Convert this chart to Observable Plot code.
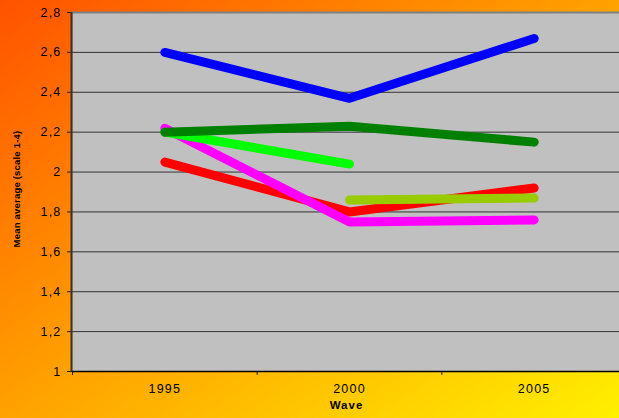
<!DOCTYPE html>
<html>
<head>
<meta charset="utf-8">
<script src="https://cdn.jsdelivr.net/npm/d3@7"></script>
<script src="https://cdn.jsdelivr.net/npm/@observablehq/plot@0.6"></script>
<style>
  html, body { margin: 0; padding: 0; width: 619px; height: 418px; overflow: hidden;
    background: linear-gradient(to bottom right, #ff5200, #ffa200 50%, #fff000); }
  #chart svg text { letter-spacing: 1.2px; }
  #chart svg .xtitle text { letter-spacing: 1px; }
  #chart svg .ytitle text { letter-spacing: 0.2px; }
</style>
</head>
<body>
<div id="chart"></div>
<script>
const years = [1995, 2000, 2005];
const bandEdges = [1992.5, 1997.5, 2002.5, 2007.5];
const yTicks = [1, 1.2, 1.4, 1.6, 1.8, 2, 2.2, 2.4, 2.6, 2.8];
const gridTicks = [1.2, 1.4, 1.6, 1.8, 2, 2.2, 2.4, 2.6];

const blue        = [2.60, 2.37, 2.67];
const darkGreen   = [2.20, 2.23, 2.15];
const brightGreen = [2.20, 2.04, null];
const red         = [2.05, 1.80, 1.92];
const magenta     = [2.22, 1.75, 1.76];
const yellowGreen = [null, 1.86, 1.87];

const seriesList = [
  {name: "red", values: red, color: "#ff0000"},
  {name: "magenta", values: magenta, color: "#ff00ff"},
  {name: "brightGreen", values: brightGreen, color: "#00ff00"},
  {name: "yellowGreen", values: yellowGreen, color: "#99cc00"},
  {name: "darkGreen", values: darkGreen, color: "#008000"},
  {name: "blue", values: blue, color: "#0000ff"}
];

const rows = s => years.map((yr, i) => ({year: yr, value: s.values[i]})).filter(d => d.value != null);
const fmt = d => String(d).replace(".", ",");

const lineMarks = seriesList.map(s => Plot.line(rows(s), {
  x: "year", y: "value", stroke: s.color, strokeWidth: 9,
  strokeLinecap: "round", strokeLinejoin: "round"
}));

const chart = Plot.plot({
  width: 619,
  height: 418,
  marginLeft: 72,
  marginRight: 0,
  marginTop: 12,
  marginBottom: 47,
  style: {background: "transparent", fontFamily: "'Liberation Sans', Arial, sans-serif", fontSize: "12.5px", color: "#000", overflow: "visible"},
  x: {domain: [1992.5, 2007.5], range: [72, 626]},
  y: {domain: [1, 2.8]},
  marks: [
    Plot.frame({fill: "#c0c0c0", stroke: null}),
    Plot.gridY(gridTicks, {stroke: "#333", strokeOpacity: 1, strokeWidth: 1}),
    Plot.ruleY([2.8], {stroke: "#808080", strokeWidth: 2}),
    Plot.axisY(yTicks, {tickSize: 5, tickPadding: 6, tickFormat: fmt, stroke: "#222", fill: "#000", label: null}),
    Plot.axisX(years, {tickSize: 0, tickPadding: 13, tickFormat: d => String(d), fill: "#000", label: null}),
    Plot.axisX(bandEdges, {tickSize: 4, stroke: "#222", tickFormat: () => "", label: null}),
    Plot.ruleY([1], {stroke: "#000", strokeWidth: 1.5}),
    Plot.ruleX([1992.5], {stroke: "#333", strokeWidth: 2, dx: -1}),
    ...lineMarks,
    Plot.text(["Wave"], {frameAnchor: "bottom", dy: 37, dx: 0.5, text: d => d, fontWeight: "bold", fontSize: 11.5, fill: "#000", className: "xtitle"}),
    Plot.text(["Mean average (scale 1-4)"], {frameAnchor: "left", textAnchor: "middle", dx: -56, dy: -3, rotate: -90, text: d => d, fontWeight: "bold", fontSize: 9.5, fill: "#000", className: "ytitle"})
  ]
});
document.getElementById("chart").appendChild(chart);
</script>
</body>
</html>
